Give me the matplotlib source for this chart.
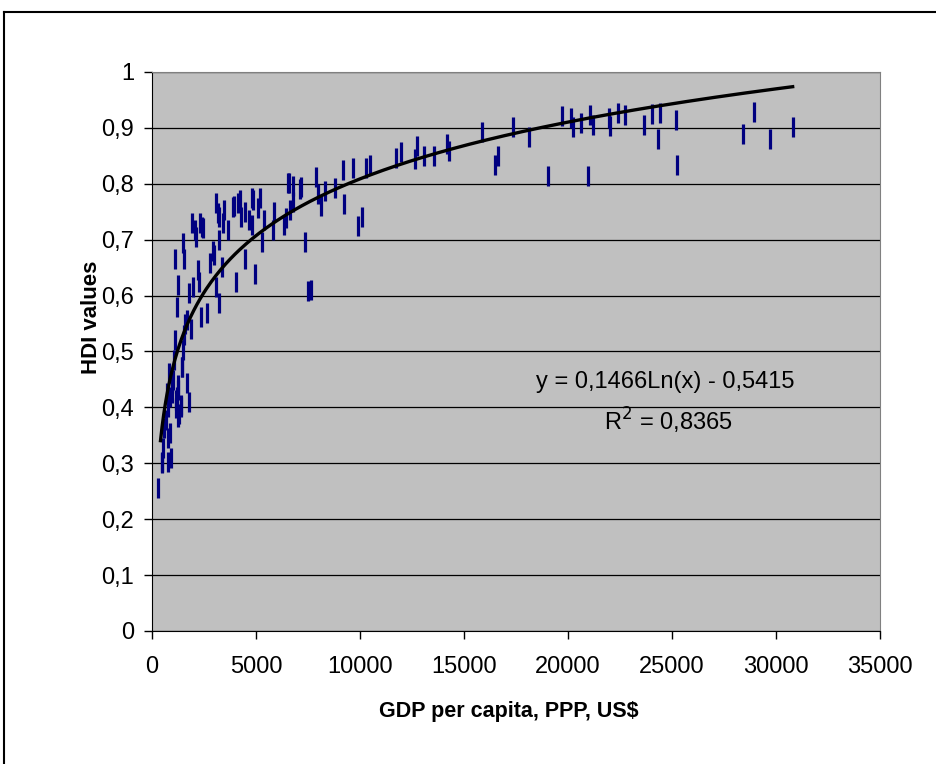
import matplotlib.pyplot as plt
import numpy as np
from matplotlib.ticker import FuncFormatter

plt.rcParams['font.family'] = ['Liberation Sans', 'DejaVu Sans']

# GDP per capita (PPP, US$) and HDI values
gdp = [303, 466, 500, 543, 591, 659, 707, 755, 755, 784, 817, 865, 865, 913,
       976, 976, 1024, 1058, 1106, 1106, 1140, 1140, 1187, 1187, 1235, 1235,
       1264, 1264, 1312, 1380, 1394, 1428, 1457, 1505, 1505, 1553, 1553, 1587,
       1668, 1668, 1793, 1793, 1861, 1909, 1957,
       2067, 2115, 2197, 2274, 2308, 2341, 2389, 2466, 2659, 2789, 2918, 2981,
       3063, 3063, 3159, 3221, 3236, 3236, 3351, 3399, 3476, 3640, 3880, 3957,
       4039, 4150, 4231, 4279, 4472, 4472, 4664, 4790, 4870, 4790, 4950, 5110,
       5190, 5270, 5400, 5800, 5870, 6350, 6430, 6520, 6600, 6640, 6760, 6800,
       7120, 7160, 7340, 7520, 7650, 7870, 7970, 8130, 8330, 8800, 9200, 9250,
       9650, 9890, 10110, 10270, 10480, 11720, 11970, 12650, 12730, 13090,
       13570, 14170, 14260, 15870, 16490, 16650, 17340, 18130, 19060, 19710,
       20130, 20260, 20640, 20950, 21040, 21190, 21970, 22040, 22420, 22740,
       23660, 24040, 24340, 24440, 25190, 25260, 28430, 28960, 29710, 30800]
hdi = [0.255, 0.303, 0.300, 0.327, 0.363, 0.377, 0.425, 0.345, 0.401, 0.303,
       0.461, 0.354, 0.419, 0.309, 0.425, 0.443, 0.449, 0.485, 0.521, 0.665,
       0.398, 0.413, 0.419, 0.580, 0.619, 0.431, 0.440, 0.383, 0.389, 0.401,
       0.404, 0.473, 0.473, 0.503, 0.694, 0.530, 0.665, 0.550, 0.556, 0.443,
       0.604, 0.410, 0.541, 0.730, 0.616,
       0.717, 0.705, 0.646, 0.625, 0.729, 0.561, 0.723, 0.720, 0.569, 0.658,
       0.680, 0.673, 0.616, 0.765, 0.748, 0.586, 0.741, 0.699, 0.652, 0.729,
       0.753, 0.717, 0.759, 0.760, 0.625, 0.765, 0.771, 0.741, 0.666, 0.750,
       0.735, 0.774, 0.771, 0.726, 0.639, 0.756, 0.774, 0.696, 0.735, 0.717,
       0.750, 0.726, 0.738, 0.802, 0.802, 0.753, 0.796, 0.768, 0.790, 0.794,
       0.695, 0.608, 0.610, 0.813, 0.781, 0.760, 0.787, 0.793, 0.825, 0.764,
       0.828, 0.725, 0.741, 0.828, 0.834, 0.846, 0.856, 0.844, 0.868, 0.850,
       0.850, 0.872, 0.859, 0.893, 0.834, 0.850, 0.902, 0.883, 0.814, 0.921,
       0.917, 0.902, 0.908, 0.814, 0.923, 0.905, 0.917, 0.904, 0.926, 0.923,
       0.905, 0.924, 0.880, 0.927, 0.914, 0.834, 0.889, 0.929, 0.880, 0.902]

# log trendline as printed on the chart (drawn over the range Excel shows)
trend_a = 0.1466
trend_b = -0.5415
trend_x0 = 410
r2 = 0.8365

fig = plt.figure(figsize=(9.37, 7.64), dpi=100)
ax = fig.add_axes([0.1622, 0.1741, 0.777, 0.7317])
ax.set_facecolor('#C0C0C0')

ax.plot(gdp, hdi, linestyle='none', marker='|', markersize=14.5,
        markeredgewidth=2.3, color='#000080', zorder=3)

xt = np.linspace(trend_x0, max(gdp), 400)
ax.plot(xt, trend_a * np.log(xt) + trend_b, color='black', lw=2.4, zorder=4)

ax.set_xlim(0, 35000)
ax.set_ylim(0, 1)
ax.set_xticks(np.arange(0, 35001, 5000))
ax.set_yticks(np.arange(0, 1.01, 0.1))
ax.yaxis.set_major_formatter(FuncFormatter(lambda v, p: ('%g' % round(v, 1)).replace('.', ',')))
ax.grid(True, axis='y', color='black', lw=0.9)
ax.set_axisbelow(True)
ax.tick_params(direction='out', length=6, width=1, labelsize=17, pad=7, color='black')
ax.tick_params(axis='x', pad=12)
for s in ['top', 'right']:
    ax.spines[s].set_color('#808080')
for s in ['left', 'bottom']:
    ax.spines[s].set_color('black')

ax.set_xlabel('GDP per capita, PPP, US$', fontsize=15.5, fontweight='bold')
ax.set_ylabel('HDI values', fontsize=16, fontweight='bold')
ax.xaxis.set_label_coords(0.49, -0.125)
ax.yaxis.set_label_coords(-0.068, 0.562)

ax.text(0.705, 0.445, 'y = 0,1466Ln(x) - 0,5415', transform=ax.transAxes,
        ha='center', va='center', fontsize=17)
ax.text(0.709, 0.375, 'R$^2$ = 0,8365', transform=ax.transAxes,
        ha='center', va='center', fontsize=17)

# outer chart border
fig.add_artist(plt.Line2D([4 / 937, 1], [1 - 12 / 764, 1 - 12 / 764], color='black', lw=1.5))
fig.add_artist(plt.Line2D([4 / 937, 4 / 937], [0, 1 - 12 / 764], color='black', lw=1.5))

fig.savefig('out.png', dpi=100)
